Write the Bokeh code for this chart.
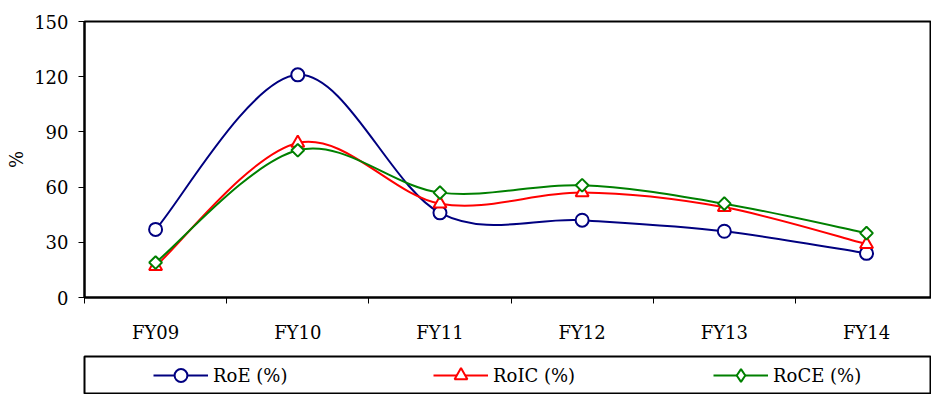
import numpy as np
from bokeh.plotting import figure
from bokeh.models import Range1d, FixedTicker, Legend, LegendItem, ColumnDataSource
from bokeh.layouts import column
from bokeh.embed import file_html
from bokeh.resources import INLINE

categories = ["FY09", "FY10", "FY11", "FY12", "FY13", "FY14"]
roe = [37, 121, 46, 42, 36, 24]
roic = [17, 84, 51, 57, 49, 29]
roce = [19, 80, 57, 61, 51, 35]
y_ticks = [0, 30, 60, 90, 120, 150]
series_names = ["RoE (%)", "RoIC (%)", "RoCE (%)"]
colors = ["#000080", "#FF0000", "#008000"]

FONT = "DejaVu Serif"
FS = "18px"

n = len(categories)
xs = np.arange(n) + 0.5
y_max = y_ticks[-1]


def smooth_segments(x, y):
    """Cubic Bezier control points (Excel-like smoothed line) from the data."""
    x = np.asarray(x, float)
    y = np.asarray(y, float)
    xp = np.concatenate([[x[0]], x, [x[-1]]])
    yp = np.concatenate([[y[0]], y, [y[-1]]])
    d = dict(x0=[], y0=[], x1=[], y1=[], cx0=[], cy0=[], cx1=[], cy1=[])
    for i in range(len(x) - 1):
        p0x, p0y = xp[i], yp[i]
        p1x, p1y = xp[i + 1], yp[i + 1]
        p2x, p2y = xp[i + 2], yp[i + 2]
        p3x, p3y = xp[i + 3], yp[i + 3]
        d["x0"].append(p1x); d["y0"].append(p1y)
        d["x1"].append(p2x); d["y1"].append(p2y)
        d["cx0"].append(p1x + (p2x - p0x) / 6.0)
        d["cy0"].append(p1y + (p2y - p0y) / 6.0)
        d["cx1"].append(p2x - (p3x - p1x) / 6.0)
        d["cy1"].append(p2y - (p3y - p1y) / 6.0)
    return d


p = figure(width=931, height=355, output_backend="svg", toolbar_location=None,
           x_range=Range1d(0, 5.957), y_range=Range1d(0, y_max),
           min_border_left=84, min_border_right=0, min_border_top=21,
           min_border_bottom=58)
p.outline_line_color = "black"
p.outline_line_width = 2
p.xgrid.visible = False
p.ygrid.visible = False
p.background_fill_color = "white"
p.border_fill_color = "white"

# x axis: labels at category centres, tick marks at category boundaries
xa = p.xaxis[0]
xa.ticker = FixedTicker(ticks=list(xs), minor_ticks=list(range(n + 1)))
xa.major_label_overrides = {float(v): c for v, c in zip(xs, categories)}
xa.major_tick_out = 0
xa.major_tick_in = 0
xa.minor_tick_out = 6
xa.minor_tick_in = 0
xa.minor_tick_line_color = "black"
xa.axis_line_color = "black"
xa.axis_line_width = 2
xa.major_label_standoff = 18
xa.major_label_text_font = FONT
xa.major_label_text_font_size = FS
xa.major_label_text_color = "black"

ya = p.yaxis[0]
ya.ticker = FixedTicker(ticks=y_ticks, minor_ticks=[])
ya.major_tick_out = 6
ya.major_tick_in = 0
ya.major_tick_line_color = "black"
ya.axis_line_color = "black"
ya.axis_line_width = 2
ya.major_label_standoff = 10
ya.major_label_text_font = FONT
ya.major_label_text_font_size = FS
ya.major_label_text_color = "black"
ya.axis_label = "%"
ya.axis_label_text_font = FONT
ya.axis_label_text_font_size = FS
ya.axis_label_text_font_style = "normal"
ya.axis_label_text_color = "black"
ya.axis_label_standoff = 4

markers = [dict(marker="circle", size=13, angle=0.0),
           dict(marker="triangle", size=13, angle=0.0),
           dict(marker="square", size=9, angle=np.pi / 4)]
legend_markers = ["circle", "triangle", "diamond"]

for vals, col, mk in zip([roe, roic, roce], colors, markers):
    p.bezier(source=ColumnDataSource(smooth_segments(xs, vals)),
             x0="x0", y0="y0", x1="x1", y1="y1",
             cx0="cx0", cy0="cy0", cx1="cx1", cy1="cy1",
             line_color=col, line_width=2)
    p.scatter(x=xs, y=vals, marker=mk["marker"], size=mk["size"], angle=mk["angle"],
              line_color=col, line_width=2, fill_color="white")

# legend panel below
leg = figure(width=931, height=39, output_backend="svg", toolbar_location=None,
             x_range=Range1d(0, 1), y_range=Range1d(0, 1),
             x_axis_type=None, y_axis_type=None,
             min_border_left=84, min_border_right=0, min_border_top=1,
             min_border_bottom=0)
leg.outline_line_color = "black"
leg.outline_line_width = 2
leg.xgrid.visible = False
leg.ygrid.visible = False

items = []
for name, col, lm in zip(series_names, colors, legend_markers):
    src = ColumnDataSource(dict(x=[-5.0], y=[-5.0]))  # outside the view, legend sample only
    r1 = leg.line("x", "y", source=src, line_color=col, line_width=2)
    r2 = leg.scatter("x", "y", source=src, marker=lm, size=13,
                     line_color=col, line_width=2, fill_color="white")
    items.append(LegendItem(label=name, renderers=[r1, r2]))

legend = Legend(items=items, orientation="horizontal", location=(69, 3),
                padding=0, margin=0, spacing=0, glyph_width=55, glyph_height=32,
                label_width=220, label_standoff=5, border_line_color=None,
                background_fill_alpha=0,
                label_text_font=FONT, label_text_font_size=FS, label_text_color="black")
leg.add_layout(legend)

layout = column(p, leg, spacing=0)
open("out.html", "w").write(file_html(layout, INLINE))
